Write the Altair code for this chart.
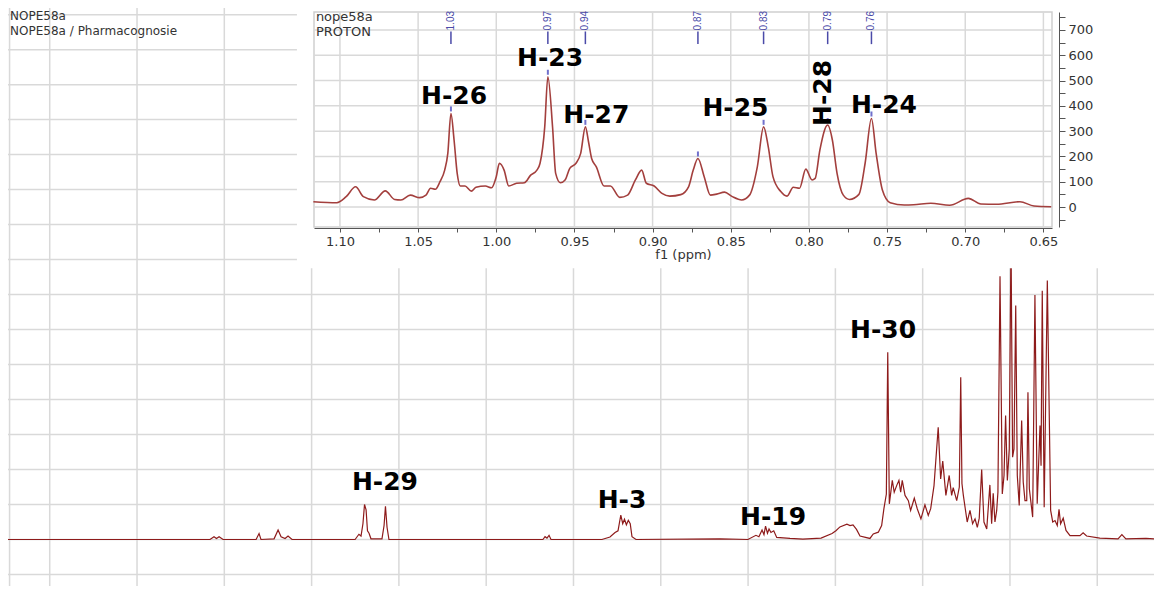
import altair as alt
import pandas as pd

# ---------------- main 1H spectrum (full range) ----------------
main_ppm = [6.739, 5.582, 5.559, 5.545, 5.530, 5.507, 5.318, 5.301, 5.290, 5.215, 5.192, 5.175, 5.152, 5.135, 5.112,
            4.751, 4.729, 4.717, 4.706, 4.697, 4.688, 4.680, 4.671, 4.660, 4.597, 4.585, 4.577, 4.568, 4.557,
            3.675, 3.663, 3.652, 3.640, 3.629, 3.337, 3.291, 3.262, 3.245, 3.229, 3.218, 3.208, 3.197, 3.186, 3.175,
            3.165, 3.142, 2.661, 2.501, 2.455, 2.438, 2.420, 2.409, 2.400, 2.389, 2.380, 2.369, 2.353, 2.336, 2.260,
            2.186, 2.082, 2.019, 1.997, 1.974, 1.934, 1.916, 1.899, 1.879, 1.859, 1.802, 1.783, 1.754, 1.735, 1.722,
            1.708, 1.700, 1.691, 1.674, 1.663, 1.649, 1.636, 1.626, 1.617, 1.601, 1.582, 1.569, 1.548, 1.531, 1.510,
            1.487, 1.468, 1.454, 1.435, 1.411, 1.397, 1.385, 1.367, 1.348, 1.334, 1.325, 1.305, 1.290, 1.282, 1.275,
            1.267, 1.245, 1.229, 1.214, 1.200, 1.187, 1.176, 1.162, 1.149, 1.133, 1.115, 1.105, 1.096, 1.086, 1.076,
            1.069, 1.057, 1.044, 1.034, 1.025, 1.015, 1.004, 0.994, 0.985, 0.977, 0.967, 0.958, 0.947, 0.933, 0.924,
            0.914, 0.904, 0.897, 0.889, 0.881, 0.870, 0.857, 0.844, 0.828, 0.822, 0.815, 0.804, 0.786, 0.767, 0.755,
            0.742, 0.729, 0.719, 0.710, 0.695, 0.679, 0.656, 0.599, 0.581, 0.561, 0.485, 0.381, 0.359, 0.336, 0.221,
            0.175]
main_int = [0.0, 0.0, 0.08, 0.03, 0.08, 0.0, 0.0, 0.17, 0.0, 0.02, 0.27, 0.08, 0.03, 0.10, 0.0,
            0.0, 0.15, 0.10, 0.45, 1.00, 0.85, 0.25, 0.18, 0.02, 0.02, 0.40, 0.95, 0.35, 0.0,
            0.0, 0.08, 0.04, 0.12, 0.0, 0.0, 0.07, 0.20, 0.25, 0.70, 0.45, 0.58, 0.42, 0.55, 0.45,
            0.08, 0.0, 0.02, 0.0, 0.12, 0.08, 0.27, 0.14, 0.38, 0.18, 0.30, 0.20, 0.25, 0.06, 0.03,
            0.01, 0.04, 0.17, 0.25, 0.36, 0.44, 0.40, 0.42, 0.29, 0.10, 0.03, 0.16, 0.21, 0.40, 0.88,
            1.30, 5.35, 1.02, 1.69, 1.35, 1.54, 1.69, 1.35, 1.69, 1.26, 1.11, 0.83, 1.18, 0.88, 0.59,
            0.99, 0.69, 0.88, 1.54, 3.21, 1.73, 2.24, 1.26, 1.83, 1.26, 1.48, 1.11, 1.50, 4.64, 1.60,
            1.26, 0.50, 0.83, 0.45, 0.59, 0.35, 0.61, 2.00, 0.50, 0.30, 1.56, 0.45, 1.32, 0.50, 0.83,
            1.35, 7.52, 1.30, 1.83, 3.54, 1.69, 2.59, 8.60, 2.35, 2.59, 6.69, 1.83, 0.97, 3.40, 1.64,
            1.11, 1.11, 4.21, 1.45, 1.11, 0.64, 6.99, 1.02, 3.26, 2.11, 7.11, 0.92, 7.40, 0.83, 0.50,
            0.54, 0.40, 0.86, 0.45, 0.61, 0.26, 0.11, 0.11, 0.19, 0.10, 0.04, 0.02, 0.14, 0.02, 0.03,
            0.02]

main_grid_x = [0.5, 1.0, 1.5, 2.0, 2.5, 3.0, 3.5, 4.0, 4.5, 5.0, 5.5, 6.0, 6.5]
main_grid_y = list(range(-1, 16))

main_lab = ["H-29", "H-3", "H-19", "H-30"]
main_lab_ppm = [4.580, 3.222, 2.357, 1.727]
main_lab_int = [1.64, 1.12, 0.64, 5.98]

meta_txt = ["NOPE58a", "NOPE58a / Pharmacognosie"]
meta_ppm = [6.727, 6.727]
meta_int = [14.95, 14.52]

# ---------------- inset (expanded methyl region) ----------------
inset_ppm = [1.117, 1.102, 1.096, 1.090, 1.085, 1.078, 1.071, 1.065, 1.061, 1.055, 1.049, 1.045, 1.042, 1.039,
             1.036, 1.033, 1.031, 1.029, 1.027, 1.025, 1.023, 1.020, 1.016, 1.013, 1.007, 1.003, 1.000, 0.998,
             0.995, 0.992, 0.987, 0.982, 0.978, 0.974, 0.972, 0.969, 0.967, 0.964, 0.962, 0.959, 0.956, 0.953,
             0.949, 0.946, 0.943, 0.941, 0.939, 0.936, 0.931, 0.927, 0.921, 0.916, 0.911, 0.907, 0.904, 0.899,
             0.894, 0.889, 0.882, 0.877, 0.874, 0.871, 0.867, 0.863, 0.859, 0.854, 0.849, 0.843, 0.838, 0.833,
             0.829, 0.826, 0.823, 0.818, 0.814, 0.810, 0.806, 0.802, 0.798, 0.796, 0.793, 0.788, 0.785, 0.782,
             0.778, 0.774, 0.768, 0.764, 0.760, 0.757, 0.753, 0.748, 0.739, 0.733, 0.722, 0.710, 0.698, 0.690,
             0.680, 0.665, 0.656, 0.645]
inset_int = [21, 17, 41, 80, 41, 28, 64, 30, 28, 47, 37, 47, 74, 70,
             100, 146, 212, 370, 265, 133, 83, 83, 63, 78, 83, 76, 120, 173,
             146, 83, 94, 96, 126, 146, 173, 317, 515, 317, 133, 96, 107, 153,
             173, 212, 317, 258, 192, 159, 83, 83, 38, 47, 107, 146, 94, 83,
             54, 43, 49, 80, 146, 192, 120, 47, 51, 59, 41, 28, 47, 159,
             317, 238, 120, 61, 43, 78, 74, 150, 107, 113, 225, 324, 265, 133,
             47, 30, 50, 175, 350, 212, 67, 17, 8, 9, 15, 7, 34, 12,
             11, 21, 4, 1]

peak_ppm = [1.029, 0.967, 0.943, 0.871, 0.829, 0.788, 0.760]
peak_int = [370, 515, 317, 192, 317, 324, 350]
peak_txt = ["1.03", "0.97", "0.94", "0.87", "0.83", "0.79", "0.76"]

inset_lab = ["H-26", "H-23", "H-27", "H-25", "H-24"]
inset_lab_ppm = [1.027, 0.9656, 0.936, 0.847, 0.752]
inset_lab_int = [439, 589, 364, 391, 403]
rot_lab = ["H-28"]
rot_lab_ppm = [0.791]
rot_lab_int = [451]

inset_meta = ["nope58a", "PROTON"]
inset_meta_ppm = [1.1154, 1.1154]
inset_meta_int = [751, 692]

x_ticks = [1.10, 1.075, 1.05, 1.025, 1.00, 0.975, 0.95, 0.925, 0.90, 0.875, 0.85, 0.825, 0.80,
           0.775, 0.75, 0.725, 0.70, 0.675, 0.65]
y_ticks = [-50, 0, 50, 100, 150, 200, 250, 300, 350, 400, 450, 500, 550, 600, 650, 700, 750]
inset_grid_x = [1.10, 1.05, 1.00, 0.95, 0.90, 0.85, 0.80, 0.75, 0.70, 0.65]
inset_grid_y = [0, 100, 200, 300, 400, 500, 600, 700]

# ---------------- scales ----------------
MX = [6.739, 0.175]
MY = [-1.329, 15.19]
IX = [1.1166, 0.6445]
IY = [-79, 771]

mx = alt.Scale(domain=MX, nice=False, zero=False)
my = alt.Scale(domain=MY, nice=False, zero=False)
ix = alt.Scale(domain=IX, range=[306, 1044], nice=False, zero=False)
iy = alt.Scale(domain=IY, range=[219, 4], nice=False, zero=False)

FONT = "DejaVu Sans"
GRID = "#d9d9d9"

ixaxis = alt.Axis(values=x_ticks, orient="bottom", offset=-358, grid=False, zindex=2,
                  labelExpr="(abs(round(datum.value * 1000)) % 50 == 0) ? format(datum.value, '.2f') : ''",
                  domainColor="#555555", tickColor="#555555", tickSize=4, domainWidth=1,
                  labelFont=FONT, labelFontSize=13, labelColor="#333333", labelPadding=3,
                  labelOverlap=False, labelFlush=False, labelBound=False,
                  title="f1 (ppm)", titleFont=FONT, titleFontSize=13, titleFontWeight="normal",
                  titleColor="#333333", titlePadding=0)
iyaxis = alt.Axis(values=y_ticks, orient="right", offset=-95, grid=False, format="d", zindex=2,
                  labelExpr="(datum.value >= 0 && datum.value <= 700 && datum.value % 100 == 0) ? datum.label : ''",
                  domainColor="#555555", tickColor="#555555", tickSize=6,
                  labelFont=FONT, labelFontSize=13, labelColor="#333333", labelPadding=3,
                  labelOverlap=False, labelFlush=False, labelBound=False, title=None)

one = pd.DataFrame({"k": [0]})

# ---------------- main layer ----------------
df_main = pd.DataFrame({"ppm": main_ppm, "i": main_int})
mgx = pd.DataFrame({"g": main_grid_x})
mgy = pd.DataFrame({"g": main_grid_y})
mlab = pd.DataFrame({"t": main_lab, "ppm": main_lab_ppm, "i": main_lab_int})
mmeta = pd.DataFrame({"t": meta_txt, "ppm": meta_ppm, "i": meta_int})

m_gx = alt.Chart(mgx).mark_rule(color=GRID, strokeWidth=1.5).encode(
    x=alt.X("g:Q", scale=mx, axis=None))
m_gy = alt.Chart(mgy).mark_rule(color=GRID, strokeWidth=1.5).encode(
    y=alt.Y("g:Q", scale=my, axis=None))
m_border = alt.Chart(one).mark_rule(color=GRID, strokeWidth=1.5).encode(
    x=alt.XDatum(6.73, scale=mx, axis=None, type="quantitative"))
m_line = alt.Chart(df_main).mark_line(color="#8e1b1b", strokeWidth=1.2).encode(
    x=alt.X("ppm:Q", scale=mx, axis=None),
    y=alt.Y("i:Q", scale=my, axis=None),
    order="ppm:Q")
m_lab = alt.Chart(mlab).mark_text(font=FONT, fontSize=25, fontWeight="bold", color="#000000").encode(
    x=alt.X("ppm:Q", scale=mx, axis=None),
    y=alt.Y("i:Q", scale=my, axis=None),
    text="t:N")
m_meta = alt.Chart(mmeta).mark_text(font=FONT, fontSize=12, color="#333333", align="left").encode(
    x=alt.X("ppm:Q", scale=mx, axis=None),
    y=alt.Y("i:Q", scale=my, axis=None),
    text="t:N")
m_cover = alt.Chart(one).mark_rect(color="white").encode(
    x=alt.XDatum(5.084, scale=mx, axis=None, type="quantitative"),
    x2=alt.datum(MX[1]),
    y=alt.YDatum(7.75, scale=my, axis=None, type="quantitative"),
    y2=alt.datum(MY[1]))

main = alt.layer(m_gx, m_gy, m_border, m_line, m_lab, m_meta, m_cover)

# ---------------- inset layer ----------------
df_in = pd.DataFrame({"ppm": inset_ppm, "i": inset_int})
igx = pd.DataFrame({"g": inset_grid_x})
igy = pd.DataFrame({"g": inset_grid_y})
pk = pd.DataFrame({"ppm": peak_ppm, "i": peak_int, "t": peak_txt})
ilab = pd.DataFrame({"t": inset_lab, "ppm": inset_lab_ppm, "i": inset_lab_int})
rlab = pd.DataFrame({"t": rot_lab, "ppm": rot_lab_ppm, "i": rot_lab_int})
imeta = pd.DataFrame({"t": inset_meta, "ppm": inset_meta_ppm, "i": inset_meta_int})


def IXf(f):
    return alt.X(f, scale=ix, axis=ixaxis)


def IYf(f):
    return alt.Y(f, scale=iy, axis=iyaxis)


def IXd(v):
    return alt.XDatum(v, scale=ix, axis=ixaxis, type="quantitative")


def IYd(v):
    return alt.YDatum(v, scale=iy, axis=iyaxis, type="quantitative")


i_frame = alt.Chart(one).mark_rect(fill="white", stroke="#cfcfcf", strokeWidth=1.5).encode(
    x=IXd(IX[0]), x2=alt.datum(IX[1]), y=IYd(IY[0]), y2=alt.datum(IY[1]))
i_gx = alt.Chart(igx).mark_rule(color=GRID, strokeWidth=1.5).encode(
    x=IXf("g:Q"), y=IYd(IY[0]), y2=alt.datum(IY[1]))
i_gy = alt.Chart(igy).mark_rule(color=GRID, strokeWidth=1.5).encode(
    y=IYf("g:Q"), x=IXd(IX[0]), x2=alt.datum(IX[1]))
i_line = alt.Chart(df_in).mark_line(color="#a33f3d", strokeWidth=1.6, interpolate="monotone").encode(
    x=IXf("ppm:Q"), y=IYf("i:Q"), order="ppm:Q")
i_mark = alt.Chart(pk).mark_rule(color="#7070cc", strokeWidth=2, yOffset=-2, y2Offset=-7).encode(
    x=IXf("ppm:Q"), y=IYf("i:Q"), y2="i:Q")
i_stub = alt.Chart(pk).mark_rule(color="#4a4aa8", strokeWidth=1.5).encode(
    x=IXf("ppm:Q"), y=IYd(644), y2=alt.datum(694))
i_stxt = alt.Chart(pk).mark_text(font="Liberation Sans", fontSize=10, color="#4a4aa8",
                                 angle=270, align="left", baseline="middle").encode(
    x=IXf("ppm:Q"), y=IYd(698), text="t:N")
i_lab = alt.Chart(ilab).mark_text(font=FONT, fontSize=25, fontWeight="bold", color="#000000").encode(
    x=IXf("ppm:Q"), y=IYf("i:Q"), text="t:N")
i_rlab = alt.Chart(rlab).mark_text(font=FONT, fontSize=25, fontWeight="bold", color="#000000",
                                   angle=270).encode(
    x=IXf("ppm:Q"), y=IYf("i:Q"), text="t:N")
i_meta = alt.Chart(imeta).mark_text(font=FONT, fontSize=13, color="#333333", align="left").encode(
    x=IXf("ppm:Q"), y=IYf("i:Q"), text="t:N")

inset = alt.layer(i_frame, i_gx, i_gy, i_line, i_mark, i_stub, i_stxt, i_lab, i_rlab, i_meta)

chart = alt.layer(main, inset).resolve_scale(x="independent", y="independent").properties(
    width=1146, height=578, padding=0, background="white",
    autosize=alt.AutoSizeParams(type="none")
).configure_view(stroke=None)

chart.save("out.html", embed_options={"renderer": "svg", "actions": False})
